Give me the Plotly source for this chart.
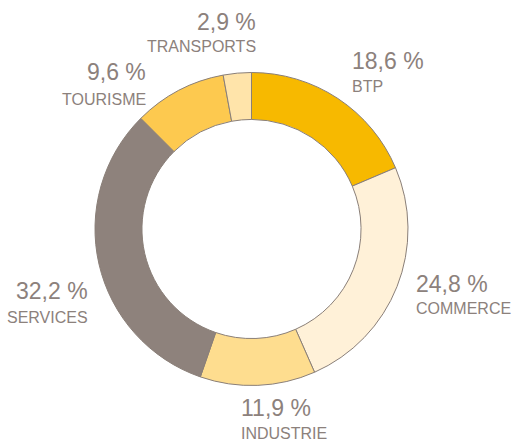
import plotly.graph_objects as go

W, H = 513, 441

categories = ["BTP", "COMMERCE", "INDUSTRIE", "SERVICES", "TOURISME", "TRANSPORTS"]
shares = [18.6, 24.8, 11.9, 32.2, 9.6, 2.9]
colors = ["#F7B900", "#FFF1D8", "#FEDD8F", "#8E827C", "#FDC94F", "#FFE4AA"]

# label anchor points (px from top-left) and alignment
label_pos = {
    "BTP": (350, 61, 86, "left"),
    "COMMERCE": (414, 284, 308, "left"),
    "INDUSTRIE": (239, 408, 433, "left"),
    "SERVICES": (90, 291, 317, "right"),
    "TOURISME": (148, 72, 99, "right"),
    "TRANSPORTS": (258, 22, 47, "right"),
}

TEXT = "#8C817C"
FONT = "Liberation Sans, Arial, sans-serif"

cx, cy, r = 251.5, 229, 156.5

fig = go.Figure(go.Pie(
    labels=categories,
    values=shares,
    sort=False,
    direction="clockwise",
    rotation=0,
    hole=0.70,
    textinfo="none",
    marker=dict(colors=colors, line=dict(color="#8A7F78", width=1)),
    domain=dict(x=[(cx - r) / W, (cx + r) / W],
                y=[(H - cy - r) / H, (H - cy + r) / H]),
    showlegend=False,
))

annotations = []
for cat, val in zip(categories, shares):
    x, y1, y2, align = label_pos[cat]
    pct = f"{val:.1f}".replace(".", ",") + " %"
    annotations.append(dict(x=x / W, y=1 - y1 / H, xref="paper", yref="paper",
                            text=pct, showarrow=False, xanchor=align, yanchor="middle",
                            font=dict(family=FONT, size=23, color=TEXT)))
    annotations.append(dict(x=x / W, y=1 - y2 / H, xref="paper", yref="paper",
                            text=cat, showarrow=False, xanchor=align, yanchor="middle",
                            font=dict(family=FONT, size=16, color=TEXT)))

fig.update_layout(width=W, height=H, margin=dict(l=0, r=0, t=0, b=0),
                  paper_bgcolor="white", plot_bgcolor="white",
                  annotations=annotations)

# drop the default page margin so the figure sits at the window's corner
fig.write_html("out.html", config={"displayModeBar": False},
               post_script="document.body.style.margin='0';")
